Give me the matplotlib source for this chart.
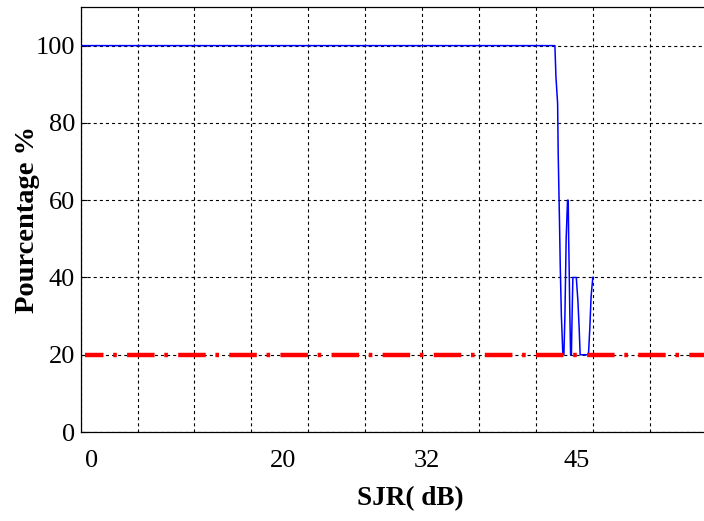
import matplotlib
matplotlib.use("Agg")
import matplotlib.pyplot as plt

# ---- data ----
sjr_x = [0.0, 41.68, 41.77, 41.92, 41.97, 42.08, 42.15, 42.25, 42.38, 42.47,
         42.56, 42.67, 42.79, 42.85, 42.89, 42.93, 42.99, 43.06, 43.13, 43.19,
         43.26, 43.56, 43.70, 43.81, 43.90, 44.63, 44.75, 44.86, 45.01]
pct_y = [100, 100, 92, 85, 72, 55, 43, 30, 20, 20,
         30, 50, 60, 60, 50, 43, 31, 20, 20, 30,
         40, 40, 34, 27, 20, 20, 27, 35, 40]
threshold_x = [0.35, 60.0]
threshold_y = [20, 20]
grid_x = [0, 5, 10, 15, 20, 25, 30, 35, 40, 45, 50, 55]
yticks = [0, 20, 40, 60, 80, 100]
xlabel_pos = [0.92, 17.8, 30.4, 43.6]
xlabel_txt = ['0', '20', '32', '45']

plt.rcParams['font.family'] = ['Liberation Serif', 'DejaVu Serif']
plt.rcParams['lines.scale_dashes'] = False

fig = plt.figure(figsize=(7.04, 5.21), dpi=100)
ax = fig.add_axes([0.1145, 0.1708, 0.9375, 0.8158])

ax.plot(sjr_x, pct_y, color='#0000ff', lw=1.1, zorder=3)
ax.plot(threshold_x, threshold_y, color='#ff0000', lw=3.2,
        linestyle=(6.5, (19.8, 7.0, 2.6, 7.4)), dash_capstyle='butt', zorder=4)

ax.set_xlim(0, 58.0)
ax.set_ylim(0, 110)

ax.set_xticks(grid_x)
ax.set_xticklabels([])
ax.set_xticks(xlabel_pos, minor=True)
ax.set_xticklabels(xlabel_txt, minor=True)
ax.tick_params(axis='x', which='major', length=0)
ax.tick_params(axis='x', which='minor', length=0, pad=13, labelsize=19)
ax.set_yticks(yticks)
ax.tick_params(axis='y', which='major', direction='in', length=4, labelsize=19, pad=4)

ax.grid(True, which='major', color='black', linestyle=(0, (2.2, 2.2)), lw=0.8)
ax.spines['right'].set_visible(False)
for s in ['left', 'bottom', 'top']:
    ax.spines[s].set_linewidth(0.9)

ax.set_xlabel('SJR( dB)', fontsize=19.5, fontweight='bold', labelpad=10)
ax.set_ylabel('Pourcentage %', fontsize=20.5, fontweight='bold', labelpad=-3)

fig.savefig('out.png', dpi=100)
